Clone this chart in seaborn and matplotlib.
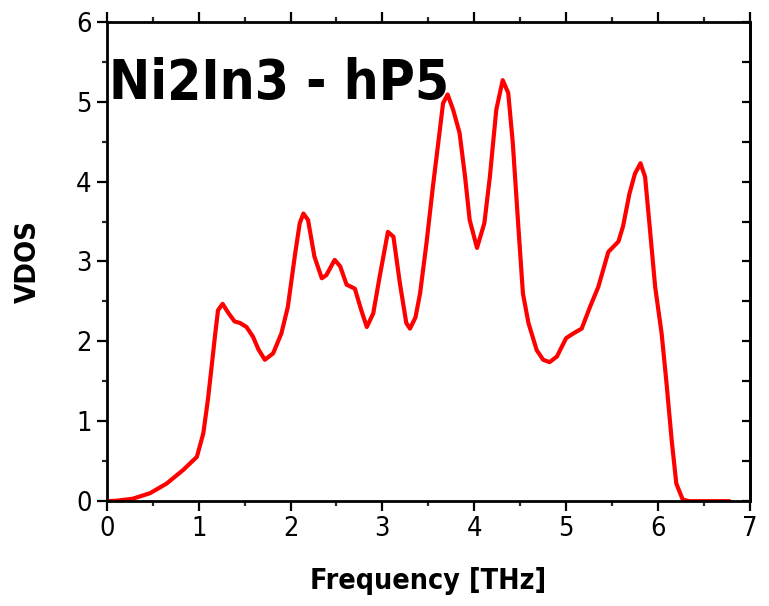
import matplotlib
matplotlib.use("Agg")
import matplotlib.pyplot as plt
from matplotlib.ticker import MultipleLocator
import seaborn as sns
import pandas as pd

# Vibrational density of states for Ni2In3 (hP5)
freq = [0.00, 0.10, 0.28, 0.47, 0.65, 0.83, 0.98,
        1.05, 1.10, 1.14, 1.18, 1.21, 1.26, 1.32, 1.39, 1.45, 1.52,
        1.59, 1.65, 1.72, 1.81, 1.90, 1.97, 2.05, 2.10, 2.14, 2.19,
        2.26, 2.34, 2.39, 2.48, 2.54, 2.61, 2.70, 2.77, 2.83, 2.90,
        2.97, 3.06, 3.12, 3.19, 3.26, 3.30, 3.36, 3.41, 3.48, 3.55,
        3.63, 3.66, 3.71, 3.77, 3.84, 3.90, 3.95, 4.03, 4.11, 4.17,
        4.24, 4.31, 4.37, 4.42, 4.48, 4.53, 4.59, 4.68, 4.75, 4.82,
        4.90, 5.00, 5.08, 5.17, 5.26, 5.35, 5.46, 5.57, 5.62, 5.69,
        5.75, 5.81, 5.86, 5.91, 5.97, 6.04, 6.09, 6.15, 6.20, 6.27,
        6.34, 6.50, 6.78]
vdos = [0.00, 0.005, 0.03, 0.10, 0.22, 0.39, 0.555,
        0.85, 1.27, 1.68, 2.10, 2.39, 2.47, 2.36, 2.25, 2.23, 2.18,
        2.06, 1.90, 1.77, 1.85, 2.10, 2.43, 3.10, 3.48, 3.60, 3.52,
        3.06, 2.79, 2.83, 3.02, 2.94, 2.71, 2.66, 2.39, 2.18, 2.35,
        2.81, 3.37, 3.31, 2.73, 2.23, 2.16, 2.30, 2.60, 3.23, 3.94,
        4.69, 4.98, 5.09, 4.90, 4.61, 4.06, 3.52, 3.17, 3.48, 4.06,
        4.90, 5.27, 5.11, 4.48, 3.44, 2.60, 2.23, 1.89, 1.77, 1.74,
        1.81, 2.04, 2.10, 2.16, 2.43, 2.68, 3.12, 3.25, 3.44, 3.85,
        4.10, 4.23, 4.06, 3.44, 2.68, 2.10, 1.52, 0.76, 0.22, 0.02,
        0.0, 0.0, 0.0]

title = "Ni2In3 - hP5"
xlabel = "Frequency [THz]"
ylabel = "VDOS"
xticks = [0, 1, 2, 3, 4, 5, 6, 7]
yticks = [0, 1, 2, 3, 4, 5, 6]

sns.set_theme(style="ticks")
plt.rcParams["font.family"] = ["DejaVu Sans Condensed", "DejaVu Sans"]
plt.rcParams["font.stretch"] = "condensed"
plt.rcParams["text.color"] = "black"
plt.rcParams["axes.labelcolor"] = "black"

df = pd.DataFrame({"freq": freq, "vdos": vdos})

fig = plt.figure(figsize=(7.69, 6.06), dpi=100)
ax = fig.add_axes([0.139, 0.173, 0.836, 0.791])

sns.lineplot(data=df, x="freq", y="vdos", color="#ff0000", linewidth=3.0,
             ax=ax, sort=False)

ax.set_xlim(0, 7)
ax.set_ylim(0, 6)
ax.set_xticks(xticks)
ax.set_yticks(yticks)
ax.xaxis.set_minor_locator(MultipleLocator(0.5))
ax.yaxis.set_minor_locator(MultipleLocator(0.5))

for s in ax.spines.values():
    s.set_linewidth(2.0)
    s.set_color("black")
    s.set_visible(True)

ax.tick_params(axis="both", which="major", direction="out", length=7,
               width=1.6, labelsize=19.5, pad=4, colors="black",
               top=True, right=False)
ax.tick_params(axis="both", which="minor", direction="out", length=3.5,
               width=1.6, top=True, right=False)

# inward ticks on the right-hand side
sec = ax.secondary_yaxis("right")
sec.set_yticks(yticks)
sec.yaxis.set_minor_locator(MultipleLocator(0.5))
sec.tick_params(axis="y", which="major", direction="in", length=5.5,
                width=1.6, labelright=False, colors="black")
sec.tick_params(axis="y", which="minor", direction="in", length=5.5,
                width=1.6, colors="black")
sec.spines["right"].set_linewidth(2.0)
sec.spines["right"].set_color("black")

ax.set_xlabel(xlabel, fontsize=20.5, fontweight="bold", labelpad=18)
ax.set_ylabel(ylabel, fontsize=21, fontweight="bold", labelpad=25)

ax.text(0.004, 0.84, title, transform=ax.transAxes, fontsize=39.5,
        fontweight="bold", ha="left", va="baseline", color="black")

fig.savefig("out.png", dpi=100, facecolor="white")
